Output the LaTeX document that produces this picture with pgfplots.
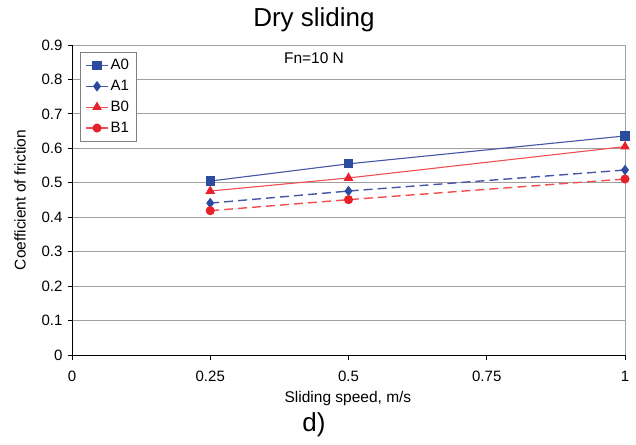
\documentclass[border=0pt]{standalone}
\usepackage{pgfplots}
\pgfplotsset{compat=1.18}
\usepackage{fontspec}
\setmainfont{Liberation Sans}
\definecolor{bmark}{HTML}{2B4C9E}
\definecolor{bline}{HTML}{4456A8}
\definecolor{rmark}{HTML}{E8202A}
\definecolor{rline}{HTML}{F04E50}
\definecolor{gridc}{HTML}{A0A0A0}
\begin{document}
\begin{tikzpicture}
\useasboundingbox (-72bp,-90bp) rectangle (564bp,355bp);
\begin{axis}[
  at={(0,0)}, anchor=south west,
  scale only axis, width=553bp, height=310bp,
  xmin=0, xmax=1, ymin=0, ymax=0.9,
  xtick={0,0.25,0.5,0.75,1},
  xticklabels={0,0.25,0.5,0.75,1},
  ytick={0,0.1,...,0.9},
  yticklabels={0,0.1,0.2,0.3,0.4,0.5,0.6,0.7,0.8,0.9},
  axis x line*=bottom, axis y line*=left,
  axis line style={black, line width=0.8bp, -},
  ymajorgrids, major grid style={gridc, line width=0.9bp},
  tick align=outside, major tick length=4.5bp,
  tick style={black, line width=0.8bp},
  xtick pos=left, ytick pos=left,
  extra x ticks={1}, extra x tick labels={},
  extra x tick style={xmajorgrids=true, major tick length=0pt},
  tick label style={font=\fontsize{15bp}{17bp}\selectfont},
  xticklabel style={yshift=-8bp},
  yticklabel style={xshift=-1.5bp},
  xlabel={Sliding speed, m/s},
  ylabel={Coefficient of friction},
  label style={font=\fontsize{15.5bp}{18bp}\selectfont},
  xlabel style={at={(axis description cs:0.499,-0.139)}, anchor=center},
  ylabel style={at={(axis description cs:-0.094,0.5)}, anchor=center},
  legend style={at={(0.0145,0.977)}, anchor=north west, draw=gray, line width=0.6bp,
    font=\fontsize{15bp}{17bp}\selectfont, row sep=5bp, inner xsep=5bp, inner ysep=5bp},
  legend cell align=left,
  legend image code/.code={\draw[#1] (0bp,0bp) -- (11bp,0bp) -- (22bp,0bp); \draw[#1, solid] plot coordinates {(11bp,0bp)};},
  clip=false,
]
\addplot[bline, line width=1.1bp, mark=square*, mark size=4.1bp, mark options={bmark, fill=bmark}]
  coordinates {(0.25,0.505) (0.5,0.555) (1,0.636)};
\addlegendentry{A0}
\addplot[bline, line width=1.4bp, dash pattern=on 9bp off 5bp, mark=diamond*, mark size=4.2bp, mark options={bmark, fill=bmark, solid}]
  coordinates {(0.25,0.441) (0.5,0.476) (1,0.537)};
\addlegendentry{A1}
\addplot[rline, line width=1.1bp, mark=triangle*, mark size=4.5bp, mark options={rmark, fill=rmark}]
  coordinates {(0.25,0.476) (0.5,0.514) (1,0.605)};
\addlegendentry{B0}
\addplot[rline, line width=1.4bp, dash pattern=on 9bp off 5bp, mark=*, mark size=3.8bp, mark options={rmark, fill=rmark, solid}]
  coordinates {(0.25,0.419) (0.5,0.451) (1,0.511)};
\addlegendentry{B1}
\node[font=\fontsize{15.5bp}{18bp}\selectfont] at (axis cs:0.4376,0.862) {Fn=10 N};
\end{axis}
\node[font=\fontsize{26bp}{30bp}\selectfont] at (242bp,335bp) {Dry sliding};
\node[font=\fontsize{26bp}{30bp}\selectfont] at (242bp,-70bp) {d)};
\end{tikzpicture}
\end{document}
